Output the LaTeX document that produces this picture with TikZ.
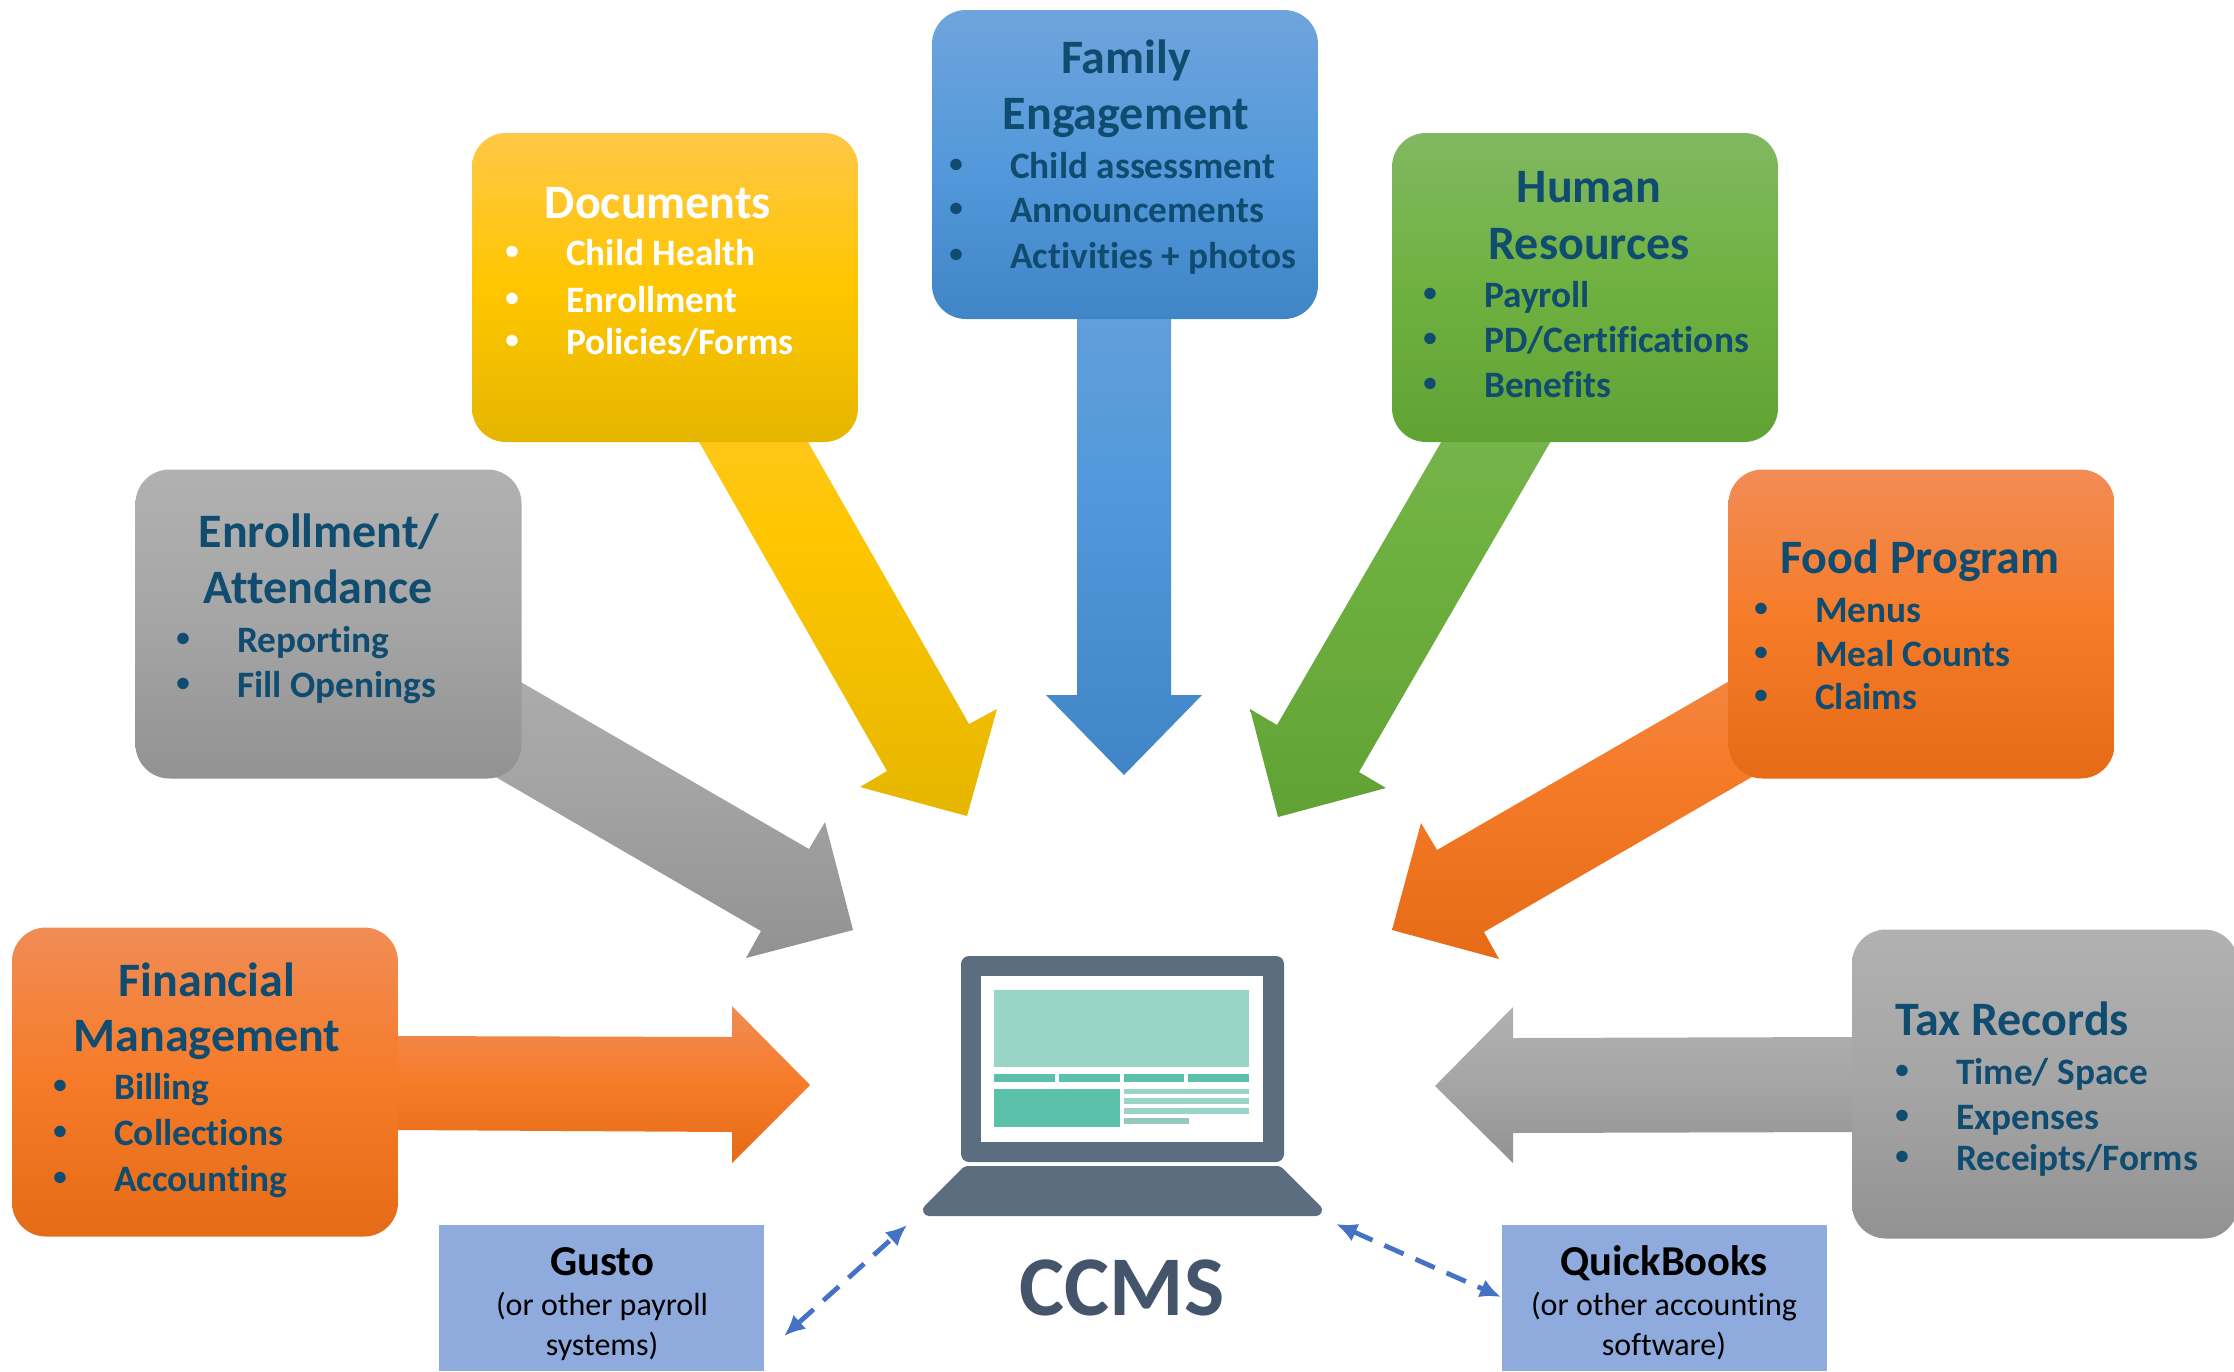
\documentclass[tikz,border=0pt]{standalone}
\usepackage{fontspec}
\setmainfont[Ligatures=CommonOff]{Carlito}
\usetikzlibrary{arrows.meta}
\definecolor{ogT}{HTML}{F18C55}\definecolor{ogM}{HTML}{F67B28}\definecolor{ogB}{HTML}{E56B17}
\definecolor{goT}{HTML}{FFC746}\definecolor{goM}{HTML}{FFC600}\definecolor{goB}{HTML}{E5B600}
\definecolor{blT}{HTML}{6FA4DC}\definecolor{blM}{HTML}{5399DB}\definecolor{blB}{HTML}{4085C6}
\definecolor{grT}{HTML}{81B861}\definecolor{grM}{HTML}{6FB140}\definecolor{grB}{HTML}{61A235}
\definecolor{gyT}{HTML}{B1B1B1}\definecolor{gyM}{HTML}{A5A5A5}\definecolor{gyB}{HTML}{929292}
\definecolor{inkblue}{HTML}{104C70}
\definecolor{slate}{HTML}{5D6D80}
\definecolor{ccmsink}{HTML}{44546A}
\definecolor{tealA}{HTML}{99D5C7}
\definecolor{tealB}{HTML}{5BC0AA}
\definecolor{softblue}{HTML}{8FAADC}
\definecolor{dashblue}{HTML}{4472C4}
\newcommand{\bul}{\llap{\raisebox{5.5pt}{\fontsize{27}{27}\selectfont •}\hspace{47.5pt}}}
\tikzset{
  x=1pt,y=-1pt,
  ogfill/.style={top color=ogT,bottom color=ogB,middle color=ogM},
  gofill/.style={top color=goT,bottom color=goB,middle color=goM},
  blfill/.style={top color=blT,bottom color=blB,middle color=blM},
  grfill/.style={top color=grT,bottom color=grB,middle color=grM},
  gyfill/.style={top color=gyT,bottom color=gyB,middle color=gyM},
  card/.style={rectangle,rounded corners=34pt,minimum width=386pt,minimum height=309pt,inner sep=0pt,draw=none},
  softbox/.style={rectangle,fill=softblue,inner sep=0pt,draw=none},
  ttl/.style={inner sep=0pt,anchor=base,font=\fontsize{48}{50}\selectfont\bfseries,text=inkblue,yshift=-1.2pt},
  ttlw/.style={ttl,anchor=base west},
  itm/.style={inner sep=0pt,anchor=base west,font=\fontsize{37.3}{40}\selectfont\bfseries,text=inkblue,yshift=-1pt},
  softhead/.style={inner sep=0pt,anchor=base,font=\fontsize{42.6}{46}\selectfont\bfseries,text=black},
  softline/.style={inner sep=0pt,anchor=base,font=\fontsize{32}{36}\selectfont,text=black},
  dashlink/.style={draw=dashblue,line width=4.8pt,dash pattern=on 21pt off 13pt,{Latex[length=21pt,width=19pt]}-{Latex[length=21pt,width=19pt]}},
}
\begin{document}
\begin{tikzpicture}
\useasboundingbox (0,0) rectangle (2234,1371);
% fat arrows (their tails run on under the cards, which is what sets their gradients)
\path[ogfill] (398,1036) -- (732,1037) -- (732,1006) -- (810,1085) -- (732,1163) -- (732,1132) -- (398,1130) -- cycle;
\path[gyfill] (1852,1037) -- (1513,1038) -- (1513,1007) -- (1435,1086) -- (1513,1163) -- (1513,1133) -- (1852,1132) -- cycle;
\path[blfill] (1077,170) -- (1171,170) -- (1171,695) -- (1202,695) -- (1124,775) -- (1046,695) -- (1077,695) -- cycle;
\path[gofill] (594,258) -- (703,258) -- (969,724) -- (997,709) -- (967,816) -- (860,787) -- (887,771) -- cycle;
\path[grfill] (1548,258) -- (1657,258) -- (1359,772) -- (1386,788) -- (1278,817) -- (1250,709) -- (1277,725) -- cycle;
\path[gyfill] (362,590) -- (809,849) -- (825,822) -- (853,930) -- (746,958) -- (761,931) -- (339,686) -- cycle;
\path[ogfill] (1887,590) -- (1437,850) -- (1421,823) -- (1392,930) -- (1499,959) -- (1484,932) -- (1909,686) -- cycle;
% cards
\node[card,ogfill] (fm) at (205,1082) {};
\node[card,gofill] (doc) at (665,287.5) {};
\node[card,blfill] (fam) at (1125,164.5) {};
\node[card,grfill] (hr) at (1585,287.5) {};
\node[card,gyfill] (enr) at (328.5,624) {};
\node[card,ogfill] (food) at (1921.5,624) {};
\node[card,gyfill] (tax) at (2045,1084) {};
% Financial
\node[ttl] (fmA) at (207,995) {Financial};
\node[ttl] (fmB) at (207,1050) {Management};
\node[itm] (fm1) at (114,1098) {\bul Billing};
\node[itm] (fm2) at (114,1144) {\bul Collections};
\node[itm] (fm3) at (114,1190) {\bul Accounting};
% Documents
\node[ttl,text=white] (docA) at (658,217) {Documents};
\node[itm,text=white] (doc1) at (566,264) {\bul Child Health};
\node[itm,text=white] (doc2) at (566,311) {\bul Enrollment};
\node[itm,text=white] (doc3) at (566,353) {\bul Policies/Forms};
% Family
\node[ttl] (famA) at (1126,72) {Family};
\node[ttl] (famB) at (1126,128) {Engagement};
\node[itm] (fam1) at (1010,177) {\bul Child assessment};
\node[itm] (fam2) at (1010,221) {\bul Announcements};
\node[itm] (fam3) at (1010,267) {\bul Activities + photos};
% HR
\node[ttl] (hrA) at (1589,201) {Human};
\node[ttl] (hrB) at (1589,258) {Resources};
\node[itm] (hr1) at (1484,306) {\bul Payroll};
\node[itm] (hr2) at (1484,351) {\bul PD/Certifications};
\node[itm] (hr3) at (1484,396) {\bul Benefits};
% Enrollment
\node[ttl] (enrA) at (319,546) {Enrollment/};
\node[ttl] (enrB) at (318,602) {Attendance};
\node[itm] (enr1) at (237,651) {\bul Reporting};
\node[itm] (enr2) at (237,696) {\bul Fill Openings};
% Food
\node[ttl] (foodA) at (1920,572) {Food Program};
\node[itm] (food1) at (1815,621) {\bul Menus};
\node[itm] (food2) at (1815,665) {\bul Meal Counts};
\node[itm] (food3) at (1815,708) {\bul Claims};
% Tax
\node[ttlw] (taxA) at (1895,1034) {Tax Records};
\node[itm] (tax1) at (1956,1083) {\bul Time/ Space};
\node[itm] (tax2) at (1956,1128) {\bul Expenses};
\node[itm] (tax3) at (1956,1169) {\bul Receipts/Forms};
% laptop
\fill[slate,rounded corners=8pt] (961,956) rectangle (1284,1162);
\fill[white] (981,976) rectangle (1263,1142);
\fill[tealA] (994,990) rectangle (1249,1067);
\fill[tealB] (994,1074) rectangle (1055,1082);
\fill[tealB] (1059,1074) rectangle (1120,1082);
\fill[tealB] (1124,1074) rectangle (1184,1082);
\fill[tealB] (1188,1074) rectangle (1249,1082);
\fill[tealB] (994,1089) rectangle (1120,1127);
\fill[tealA] (1124,1089) rectangle (1249,1094);
\fill[tealA] (1124,1098) rectangle (1249,1104);
\fill[tealA] (1124,1108) rectangle (1249,1114);
\fill[tealA!85!gray] (1124,1118) rectangle (1189,1124);
\filldraw[fill=slate,draw=slate,line width=12pt,line join=round] (967,1172) -- (1278,1172) -- (1316,1210) -- (929,1210) -- cycle;
\node[inner sep=0pt,anchor=base,font=\fontsize{85}{90}\selectfont\bfseries,text=ccmsink] (ccms) at (1122,1315) {CCMS};
% software boxes
\node[softbox,minimum width=325pt,minimum height=146pt] (gusto) at (601.5,1298) {};
\node[softhead] (gustoA) at (602,1275) {Gusto};
\node[softline] (gustoB) at (602,1315) {(or other payroll};
\node[softline] (gustoC) at (602,1355) {systems)};
\node[softbox,minimum width=325pt,minimum height=146pt] (qb) at (1664.5,1298) {};
\node[softhead] (qbA) at (1664,1275) {QuickBooks};
\node[softline] (qbB) at (1664,1315) {(or other accounting};
\node[softline] (qbC) at (1664,1355) {software)};
% dashed links
\coordinate (gustoEnd) at (784,1336);
\coordinate (laptopL) at (907,1225);
\coordinate (laptopR) at (1336,1224);
\coordinate (qbEnd) at (1501,1297);
\draw[dashlink] (gustoEnd) -- (laptopL);
\draw[dashlink] (laptopR) -- (qbEnd);
\end{tikzpicture}
\end{document}
